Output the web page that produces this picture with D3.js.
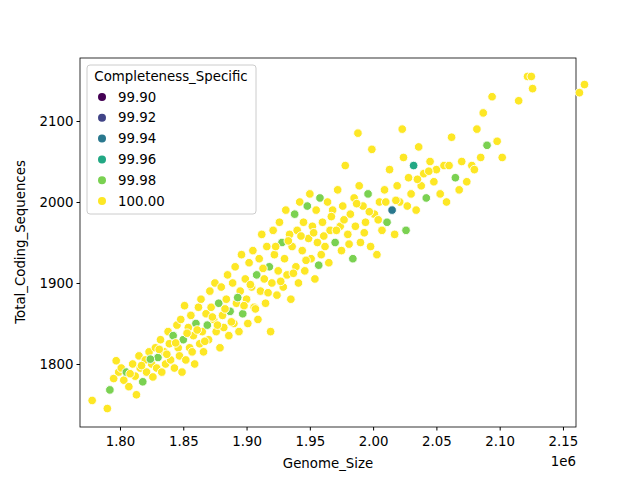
<!DOCTYPE html><html><head><script src="https://cdn.jsdelivr.net/npm/d3@7"></script>
<style>body{margin:0}text{font-family:"DejaVu Sans",sans-serif}</style></head><body><svg id="c" width="640" height="480"></svg>
<script>
const xTicks=[1.80,1.85,1.90,1.95,2.00,2.05,2.10,2.15];
const yTicks=[1800,1900,2000,2100];
const legendLevels=[99.90,99.92,99.94,99.96,99.98,100.00];
const genomeSize=[1.778,1.790,1.792,1.795,1.797,1.799,1.801,1.803,1.805,1.807,1.810,1.812,1.813,1.815,1.816,1.818,1.820,1.821,1.823,1.825,1.826,1.828,1.829,1.830,1.832,1.833,1.835,1.836,1.838,1.839,1.840,1.842,1.843,1.845,1.846,1.847,1.849,1.848,1.850,1.851,1.852,1.854,1.855,1.856,1.858,1.859,1.860,1.862,1.863,1.864,1.865,1.866,1.868,1.869,1.870,1.871,1.872,1.874,1.875,1.876,1.878,1.879,1.880,1.881,1.882,1.884,1.885,1.886,1.887,1.889,1.890,1.891,1.892,1.894,1.895,1.896,1.897,1.899,1.900,1.901,1.902,1.904,1.905,1.906,1.908,1.909,1.910,1.911,1.912,1.914,1.915,1.916,1.918,1.919,1.920,1.921,1.922,1.924,1.925,1.926,1.928,1.929,1.930,1.931,1.932,1.934,1.935,1.936,1.938,1.939,1.940,1.941,1.942,1.944,1.945,1.946,1.948,1.949,1.950,1.951,1.952,1.954,1.955,1.956,1.958,1.959,1.960,1.962,1.964,1.965,1.966,1.968,1.970,1.972,1.974,1.975,1.976,1.978,1.980,1.982,1.984,1.985,1.986,1.988,1.989,1.990,1.992,1.994,1.996,1.998,1.999,2.001,2.003,2.005,2.007,2.009,2.011,2.013,2.015,2.017,2.019,2.021,2.023,2.024,2.026,2.028,2.030,2.032,2.034,2.036,2.038,2.040,2.042,2.045,2.048,2.050,2.053,2.056,2.058,2.062,2.065,2.068,2.070,2.074,2.078,2.082,2.085,2.087,2.090,2.094,2.098,2.102,2.115,2.122,2.126,2.125,2.163,2.167,
1.808,1.817,1.824,1.831,1.837,1.844,1.853,1.857,1.861,1.867,1.873,1.877,1.883,1.888,1.893,1.898,1.903,1.907,1.913,1.917,1.923,1.927,1.933,1.937,1.943,1.947,1.953,1.957,1.961,1.967,1.971,1.977,1.981,1.987,1.993,1.997,2.004,2.010,2.018,2.027,2.035,2.044,2.060,2.080];
const codingSeqs=[1755,1745,1768,1782,1804,1790,1795,1780,1790,1772,1800,1785,1762,1810,1795,1778,1805,1790,1815,1800,1784,1820,1795,1808,1830,1790,1815,1800,1840,1825,1805,1835,1795,1848,1820,1810,1790,1855,1830,1872,1805,1845,1820,1860,1835,1800,1850,1870,1825,1880,1840,1815,1862,1848,1830,1890,1870,1855,1900,1840,1875,1820,1895,1860,1845,1880,1910,1835,1865,1900,1850,1920,1875,1840,1890,1935,1862,1905,1880,1850,1925,1895,1940,1870,1910,1855,1930,1890,1960,1905,1875,1945,1920,1840,1900,1965,1935,1885,1915,1975,1950,1895,1930,1990,1910,1960,1880,1945,1985,1920,1965,1900,2000,1940,1975,1915,1995,1955,2010,1930,1970,1905,1990,1950,2005,1935,1975,1945,2000,1925,1965,1990,1950,2015,1970,1940,1995,2045,1960,1985,1930,2005,1970,2085,2020,1950,1995,1975,2010,1945,2065,1985,1935,2000,1965,2015,1975,2040,1990,1960,2020,2000,2090,2055,1965,2030,2010,2045,1990,2068,2020,2035,2005,2050,2025,2040,2010,2045,2000,2080,2030,2015,2050,2025,2045,2090,2055,2110,2070,2130,2075,2055,2125,2155,2140,2155,2135,2145,
1788,1798,1806,1818,1812,1826,1838,1815,1842,1828,1858,1848,1868,1852,1882,1872,1898,1868,1918,1888,1945,1902,1952,1912,1958,1928,1962,1922,1958,1982,1965,1978,1948,1998,1962,1988,1978,2000,2002,1995,2028,2038,2045,2040];
const completeness=genomeSize.map((d,i)=>[2,8,15,23,31,38,46,53,60,68,76,84,92,100,108,116,124,132,140,148,156,164,172,180,188,200,212,225].includes(i)?99.98:(i===167?99.96:(i===158?99.94:100)));
const svg=d3.select("#c");
const L=80,R=576,T=58,B=427;
const x=d3.scaleLinear().domain([1.7684,2.1603]).range([L,R]);
const y=d3.scaleLinear().domain([1722.2,2177.8]).range([B,T]);
const col=d3.scaleSequential(d3.interpolateViridis).domain([99.9,100]);
svg.append("rect").attr("x",L).attr("y",T).attr("width",R-L).attr("height",B-T).attr("fill","none").attr("stroke","#000").attr("stroke-width",0.8);
svg.append("g").attr("transform",`translate(0,${B})`).call(d3.axisBottom(x).tickValues(xTicks).tickFormat(d3.format(".2f")).tickSize(3.5).tickSizeOuter(0)).call(g=>{g.select(".domain").remove();g.selectAll("text").attr("font-size","10pt").attr("dy","0.9em");});
svg.append("g").attr("transform",`translate(${L},0)`).call(d3.axisLeft(y).tickValues(yTicks).tickFormat(d3.format("d")).tickSize(3.5).tickSizeOuter(0)).call(g=>{g.select(".domain").remove();g.selectAll("text").attr("font-size","10pt");});
svg.selectAll(".tick text").attr("font-family","DejaVu Sans").attr("fill","#000");
svg.append("g").selectAll("circle").data(genomeSize).join("circle").attr("cx",d=>x(d)).attr("cy",(d,i)=>y(codingSeqs[i])).attr("r",4.3).attr("fill",(d,i)=>col(completeness[i])).attr("stroke","#fff").attr("stroke-width",0.9);
svg.append("text").attr("x",328).attr("y",468).attr("text-anchor","middle").attr("font-size","10pt").text("Genome_Size");
svg.append("text").attr("transform","translate(25,242) rotate(-90)").attr("text-anchor","middle").attr("font-size","10pt").text("Total_Coding_Sequences");
svg.append("text").attr("x",576).attr("y",466).attr("text-anchor","end").attr("font-size","10pt").text("1e6");
const lg=svg.append("g");
lg.append("rect").attr("x",87).attr("y",65).attr("width",169).attr("height",149).attr("rx",3).attr("fill","#fff").attr("fill-opacity",0.8).attr("stroke","#ccc");
lg.append("text").attr("x",171).attr("y",81).attr("text-anchor","middle").attr("font-size","10pt").text("Completeness_Specific");
legendLevels.forEach((v,i)=>{const yy=97+i*20.8;
lg.append("circle").attr("cx",102).attr("cy",yy).attr("r",4).attr("fill",col(v));
lg.append("text").attr("x",118).attr("y",yy+4.5).attr("font-size","10pt").text(v.toFixed(2));});
</script></body></html>
